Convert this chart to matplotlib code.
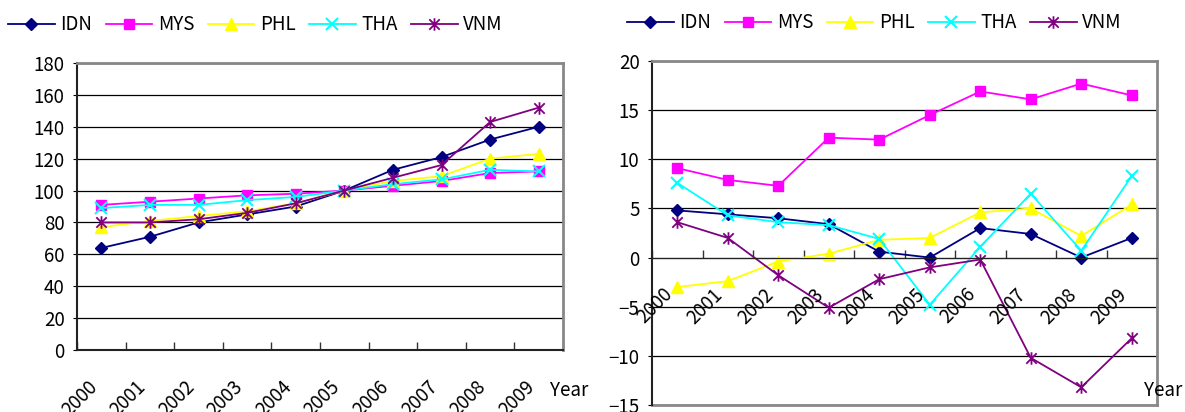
import matplotlib.pyplot as plt
from matplotlib.path import Path

plt.rcParams['font.family'] = ['Noto Sans CJK JP', 'DejaVu Sans']
plt.rcParams['axes.unicode_minus'] = True

years = ['2000', '2001', '2002', '2003', '2004', '2005', '2006', '2007', '2008', '2009']
countries = ['IDN', 'MYS', 'PHL', 'THA', 'VNM']

# index, 2005 = 100
index_idn = [64, 71, 80, 85, 90, 100, 113, 121, 132, 140]
index_mys = [91, 93, 95, 97, 98, 100, 103, 106, 111, 112]
index_phl = [77, 81, 84, 87, 92, 100, 106, 109, 120, 123]
index_tha = [89, 91, 91, 94, 96, 100, 104, 107, 113, 112]
index_vnm = [80, 80, 82, 86, 92, 100, 108, 116, 143, 152]

# annual change, %
chg_idn = [4.8, 4.4, 4.0, 3.4, 0.6, 0.0, 3.0, 2.4, 0.0, 2.0]
chg_mys = [9.1, 7.9, 7.3, 12.2, 12.0, 14.5, 16.9, 16.1, 17.7, 16.5]
chg_phl = [-3.0, -2.4, -0.4, 0.4, 1.8, 2.0, 4.6, 5.0, 2.2, 5.4]
chg_tha = [7.6, 4.3, 3.6, 3.3, 1.9, -4.8, 1.1, 6.5, 0.7, 8.3]
chg_vnm = [3.6, 2.0, -1.8, -5.1, -2.2, -1.0, -0.2, -10.2, -13.2, -8.2]

index_data = [index_idn, index_mys, index_phl, index_tha, index_vnm]
chg_data = [chg_idn, chg_mys, chg_phl, chg_tha, chg_vnm]

# asterisk marker: an X with a vertical bar through it
star = Path([(-1, -1), (1, 1), (-1, 1), (1, -1), (0, -1.2), (0, 1.2)],
            [Path.MOVETO, Path.LINETO, Path.MOVETO, Path.LINETO, Path.MOVETO, Path.LINETO])

styles = {
    'IDN': dict(color='#000080', marker='D', ms=6.5),
    'MYS': dict(color='#FF00FF', marker='s', ms=7),
    'PHL': dict(color='#FFFF00', marker='^', ms=8.5),
    'THA': dict(color='#00FFFF', marker='x', ms=8, mew=1.5),
    'VNM': dict(color='#800080', marker=star, ms=9, mew=1.3),
}

fig = plt.figure(figsize=(11.85, 4.12), dpi=100)
ax1 = fig.add_axes([77 / 1185, 62 / 412, 486 / 1185, 287 / 412])
ax2 = fig.add_axes([652 / 1185, 7 / 412, 505 / 1185, 344 / 412])

xs = [i + 0.5 for i in range(len(years))]


def draw(ax, data, ylim, step, legend_at):
    for name, vals in zip(countries, data):
        st = styles[name]
        ax.plot(xs, vals, color=st['color'], lw=1.3, marker=st['marker'],
                ms=st['ms'], mfc=st['color'], mec=st['color'],
                mew=st.get('mew', 1), label=name, clip_on=False)
    ax.set_xlim(0, 10)
    ax.set_ylim(*ylim)
    ax.set_yticks(range(ylim[0], ylim[1] + 1, step))
    ax.set_xticks(range(11))
    ax.set_xticklabels([])
    ax.tick_params(axis='x', direction='in', length=6, width=1, color='#333333')
    ax.tick_params(axis='y', direction='out', length=3, labelsize=13.5, pad=6)
    ax.grid(axis='y', color='black', lw=0.9)
    ax.set_axisbelow(True)
    for s in ['top', 'right']:
        ax.spines[s].set_color('#888888')
        ax.spines[s].set_linewidth(2)
    ax.spines['left'].set_color('#222222')
    ax.spines['left'].set_linewidth(1.5)
    label_y = max(ylim[0], 0)
    for i, yr in enumerate(years):
        ax.annotate(yr, xy=(i + 0.2, label_y), xycoords='data',
                    xytext=(0, -19), textcoords='offset points',
                    rotation=45, rotation_mode='anchor', ha='right', va='top',
                    fontsize=13.5, annotation_clip=False)
    ax.legend(loc='center left', ncol=5, frameon=False, fontsize=13.5,
              handlelength=2.5, handletextpad=0.3, columnspacing=0.7,
              borderpad=0, borderaxespad=0,
              bbox_to_anchor=legend_at, bbox_transform=fig.transFigure)


draw(ax1, index_data, (0, 180), 20, (8 / 1185, 1 - 25 / 412))
ax1.spines['bottom'].set_color('#222222')
ax1.spines['bottom'].set_linewidth(1.5)

draw(ax2, chg_data, (-15, 20), 5, (627 / 1185, 1 - 23 / 412))
ax2.spines['bottom'].set_position(('data', 0))
ax2.spines['bottom'].set_color('#222222')
ax2.axhline(-15, color='#888888', lw=2, clip_on=False)

fig.text(550 / 1185, 1 - 390 / 412, 'Year', fontsize=13.5, va='center', ha='left')
fig.text(1144 / 1185, 1 - 390 / 412, 'Year', fontsize=13.5, va='center', ha='left')

fig.savefig('out.png', dpi=100)
